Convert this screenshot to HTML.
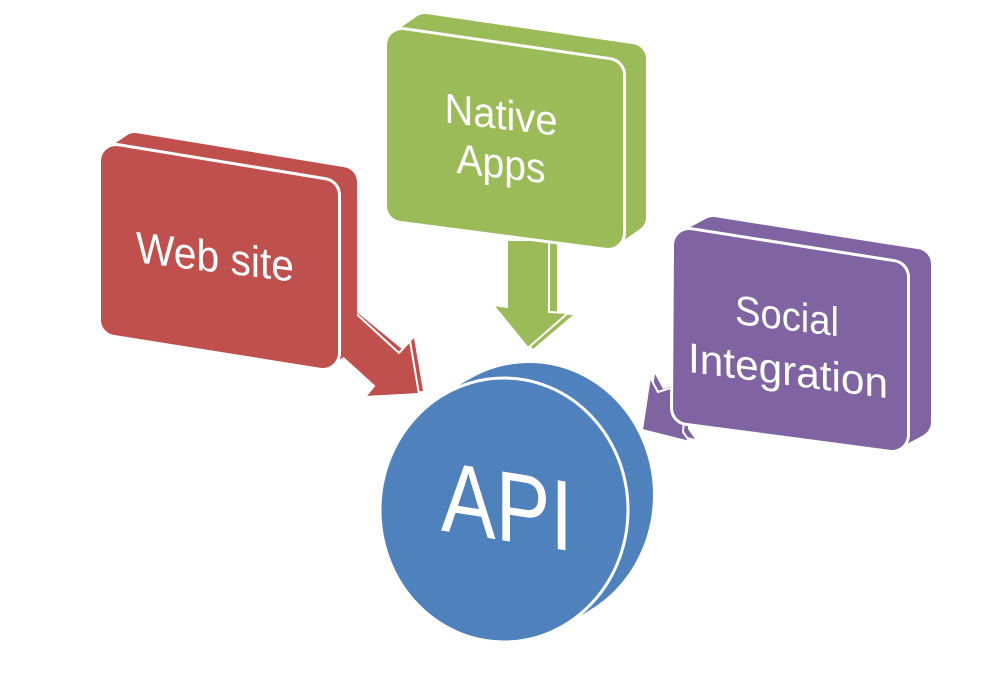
<!DOCTYPE html>
<html>
<head>
<meta charset="utf-8">
<style>
html,body{margin:0;padding:0;background:#fff;}
svg{display:block;}
text{font-family:"Liberation Sans",Arial,sans-serif;fill:#fff;}
</style>
</head>
<body>
<svg width="1002" height="679" viewBox="0 0 1002 679" xmlns="http://www.w3.org/2000/svg">
  <rect width="1002" height="679" fill="#fff"/>

  <!-- Red arrow -->
  <polygon points="330,290 403,350 414,338 423,391 369,394 378,383 322,332" fill="#C0504D"/>
  <polygon points="325,285 399,353 410,341 419,394 365,397 374,386 318,335" fill="#C0504D" stroke="#fff" stroke-width="2" stroke-linejoin="miter"/>

  <!-- Red box -->
  <polygon points="116,161 135,148 342,182 342,340 323,353 116,320" fill="#C0504D" stroke="#C0504D" stroke-width="30" stroke-linejoin="round"/>
  <polygon points="116,161 323,195 323,353 116,320" fill="#fff" stroke="#fff" stroke-width="36" stroke-linejoin="round"/>
  <polygon points="116,161 323,195 323,353 116,320" fill="#C0504D" stroke="#C0504D" stroke-width="30" stroke-linejoin="round"/>
  <text x="0" y="0" font-size="44" text-anchor="middle" textLength="158" lengthAdjust="spacingAndGlyphs" transform="translate(215,272) skewY(7)">Web site</text>

  <!-- Green arrow -->
  <polygon points="512,238 512,309 498,307 533,349 573,315 557,314 557,238" fill="#9BBB59"/>
  <polygon points="507,240 507,307 493,305 528,348 568,313 549,312 549,240" fill="#9BBB59" stroke="#fff" stroke-width="2" stroke-linejoin="miter"/>

  <!-- Green box -->
  <polygon points="402,45 425,29 631,59 631,217 608,233 402,206" fill="#9BBB59" stroke="#9BBB59" stroke-width="30" stroke-linejoin="round"/>
  <polygon points="402,45 608,75 608,233 402,206" fill="#fff" stroke="#fff" stroke-width="36" stroke-linejoin="round"/>
  <polygon points="402,45 608,75 608,233 402,206" fill="#9BBB59" stroke="#9BBB59" stroke-width="30" stroke-linejoin="round"/>
  <text x="0" y="0" font-size="42" text-anchor="middle" textLength="113" lengthAdjust="spacingAndGlyphs" transform="translate(501,129) skewY(6.6)">Native</text>
  <text x="0" y="0" font-size="42" text-anchor="middle" textLength="89" lengthAdjust="spacingAndGlyphs" transform="translate(501,178) skewY(6.6)">Apps</text>

  <!-- Purple arrow -->
  <polygon points="684,382 663,389 655,374 647,427 695,439 688,429 688,417" fill="#8064A2"/>
  <polygon points="680,385 658,392 650,377 642,430 690,442 683,432 684,420" fill="#8064A2" stroke="#fff" stroke-width="2" stroke-linejoin="miter"/>

  <!-- Purple box -->
  <polygon points="689,245 713,232 916,264 916,422 892,435 688,408" fill="#8064A2" stroke="#8064A2" stroke-width="30" stroke-linejoin="round"/>
  <polygon points="689,245 892,277 892,435 688,408" fill="#fff" stroke="#fff" stroke-width="36" stroke-linejoin="round"/>
  <polygon points="689,245 892,277 892,435 688,408" fill="#8064A2" stroke="#8064A2" stroke-width="30" stroke-linejoin="round"/>
  <text x="0" y="0" font-size="41" text-anchor="middle" textLength="104" lengthAdjust="spacingAndGlyphs" transform="translate(787,330) skewY(6.8)">Social</text>
  <text x="0" y="0" font-size="42" text-anchor="middle" textLength="200" lengthAdjust="spacingAndGlyphs" transform="translate(788,385) skewY(7.5)">Integration</text>

  <!-- API disc -->
  <ellipse cx="529" cy="495" rx="124" ry="132" fill="#4F81BD"/>
  <polygon points="443,395 468,380 590,610 565,625" fill="#4F81BD"/>
  <ellipse cx="504" cy="510" rx="124" ry="132" fill="#4F81BD" stroke="#fff" stroke-width="3"/>
  <text x="0" y="0" font-size="100" text-anchor="middle" textLength="132" lengthAdjust="spacingAndGlyphs" transform="translate(507,541) skewY(9)">API</text>
</svg>
</body>
</html>
